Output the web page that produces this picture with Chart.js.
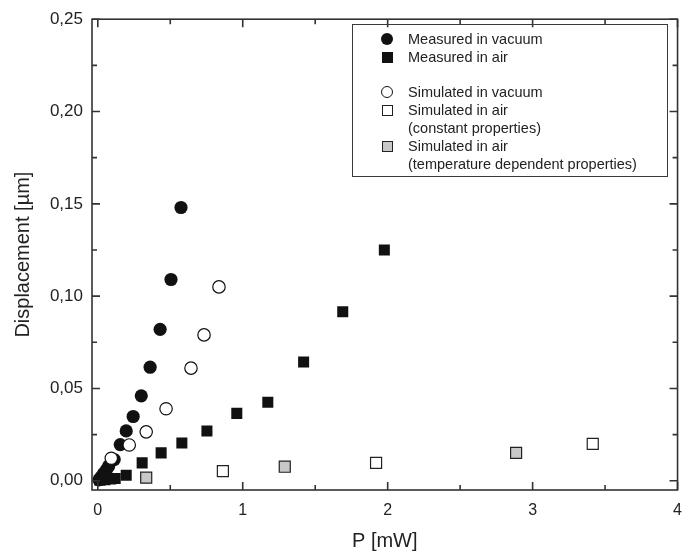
<!DOCTYPE html>
<html>
<head>
<meta charset="utf-8">
<script src="https://cdn.jsdelivr.net/npm/chart.js@4/dist/chart.umd.min.js"></script>
<style>
  html, body { margin: 0; padding: 0; background: #fff; }
  #wrap { position: relative; width: 693px; height: 558px; }
  #legend { position: absolute; left: 352px; top: 24px; width: 316px; height: 153px;
            border: 1.5px solid #3a3a3a; font-family: "Liberation Sans", Arial, sans-serif;
            font-size: 14.5px; color: #222; box-sizing: border-box; }
  .row { position: absolute; left: 0; height: 18px; line-height: 18px; white-space: nowrap; }
  .row .txt { position: absolute; left: 55px; top: 0; }
  .mk { position: absolute; left: 28px; top: 3px; width: 12px; height: 12px; box-sizing: border-box; }
  .fc { background: #111; border-radius: 50%; }
  .fs { background: #111; width: 11px; height: 11px; left: 29px; top: 4px; }
  .oc { border: 1.3px solid #111; border-radius: 50%; background: #fff; }
  .os { border: 1.3px solid #222; background: #fff; width: 11px; height: 11px; left: 29px; top: 4px; }
  .gs { border: 1.3px solid #222; background: #c8c8c8; width: 11px; height: 11px; left: 29px; top: 4px; }
</style>
</head>
<body>
<div id="wrap">
  <canvas id="c" width="693" height="558"></canvas>
  <div id="legend">
    <div class="row" style="top:5px"><span class="mk fc"></span><span class="txt">Measured in vacuum</span></div>
    <div class="row" style="top:23px"><span class="mk fs"></span><span class="txt">Measured in air</span></div>
    <div class="row" style="top:58px"><span class="mk oc"></span><span class="txt">Simulated in vacuum</span></div>
    <div class="row" style="top:76px"><span class="mk os"></span><span class="txt">Simulated in air</span></div>
    <div class="row" style="top:94px"><span class="txt">(constant properties)</span></div>
    <div class="row" style="top:112px"><span class="mk gs"></span><span class="txt">Simulated in air</span></div>
    <div class="row" style="top:130px"><span class="txt">(temperature dependent properties)</span></div>
  </div>
</div>
<script>
// ---- data ----
const measVacX = [0.008, 0.022, 0.04, 0.06, 0.075, 0.113, 0.155, 0.196, 0.244, 0.30, 0.361, 0.43, 0.505, 0.574];
const measVacY = [0.0005, 0.002, 0.004, 0.006, 0.008, 0.0115, 0.0196, 0.027, 0.0348, 0.046, 0.0615, 0.082, 0.109, 0.148];

const measAirX = [0.015, 0.05, 0.09, 0.12, 0.196, 0.306, 0.437, 0.58, 0.753, 0.959, 1.173, 1.42, 1.69, 1.977];
const measAirY = [0.0003, 0.0006, 0.0009, 0.0012, 0.003, 0.0097, 0.0151, 0.0205, 0.027, 0.0365, 0.0425, 0.0643, 0.0915, 0.125];

const simVacX = [0.093, 0.217, 0.334, 0.471, 0.643, 0.733, 0.836];
const simVacY = [0.0122, 0.0194, 0.0265, 0.039, 0.061, 0.079, 0.105];

const simAirConstX = [0.863, 1.92, 3.415];
const simAirConstY = [0.0052, 0.0097, 0.0200];

const simAirTempX = [0.334, 1.29, 2.886];
const simAirTempY = [0.0017, 0.0076, 0.0151];

const xTickValues = [0, 1, 2, 3, 4];
const xTickLabels = ['0', '1', '2', '3', '4'];
const yTickValues = [0, 0.05, 0.10, 0.15, 0.20, 0.25];
const yTickLabels = ['0,00', '0,05', '0,10', '0,15', '0,20', '0,25'];
const xMinorTicks = [0.5, 1.5, 2.5, 3.5];
const yMinorTicks = [0.025, 0.075, 0.125, 0.175, 0.225];

const pts = (xs, ys) => xs.map((x, i) => ({ x, y: ys[i] }));

const frameTicks = {
  id: 'frameTicks',
  afterDatasetsDraw(chart) {
    const { ctx, chartArea: a, scales: { x, y } } = chart;
    ctx.save();
    ctx.strokeStyle = '#333';
    ctx.lineWidth = 1.6;
    ctx.strokeRect(a.left, a.top, a.right - a.left, a.bottom - a.top);
    const maj = 8, min = 5;
    ctx.beginPath();
    const xt = (v, L) => { const p = x.getPixelForValue(v); ctx.moveTo(p, a.bottom); ctx.lineTo(p, a.bottom - L); ctx.moveTo(p, a.top); ctx.lineTo(p, a.top + L); };
    const yt = (v, L) => { const p = y.getPixelForValue(v); ctx.moveTo(a.left, p); ctx.lineTo(a.left + L, p); ctx.moveTo(a.right, p); ctx.lineTo(a.right - L, p); };
    xTickValues.forEach(v => xt(v, maj));
    xMinorTicks.forEach(v => xt(v, min));
    yTickValues.forEach(v => yt(v, maj));
    yMinorTicks.forEach(v => yt(v, min));
    ctx.stroke();
    ctx.restore();
  }
};

const FONT = "'Liberation Sans', Arial, sans-serif";

new Chart(document.getElementById('c'), {
  type: 'scatter',
  data: {
    datasets: [
      { label: 'Simulated in air (constant properties)', data: pts(simAirConstX, simAirConstY),
        pointStyle: 'rect', pointRadius: 7.8, backgroundColor: '#fff', borderColor: '#222', borderWidth: 1.2 },
      { label: 'Simulated in air (temperature dependent properties)', data: pts(simAirTempX, simAirTempY),
        pointStyle: 'rect', pointRadius: 7.8, backgroundColor: '#c8c8c8', borderColor: '#222', borderWidth: 1.2 },
      { label: 'Measured in air', data: pts(measAirX, measAirY),
        pointStyle: 'rect', pointRadius: 7.8, backgroundColor: '#111', borderColor: '#111', borderWidth: 0 },
      { label: 'Simulated in vacuum', data: pts(simVacX, simVacY),
        pointStyle: 'circle', pointRadius: 6.2, backgroundColor: '#fff', borderColor: '#111', borderWidth: 1.2 },
      { label: 'Measured in vacuum', data: pts(measVacX, measVacY),
        pointStyle: 'circle', pointRadius: 6.6, backgroundColor: '#111', borderColor: '#111', borderWidth: 0 }
    ]
  },
  options: {
    responsive: false,
    animation: false,
    layout: { padding: { top: 17, right: 14, left: 0, bottom: 0 } },
    plugins: { legend: { display: false }, tooltip: { enabled: false } },
    elements: { point: { hoverRadius: 6 } },
    scales: {
      x: {
        type: 'linear', min: -0.04, max: 4,
        grid: { display: false, drawTicks: false },
        border: { display: false },
        afterBuildTicks: s => { s.ticks = xTickValues.map(v => ({ value: v })); },
        afterFit: s => { s.height = 68; },
        ticks: { padding: 11, color: '#222', font: { family: FONT, size: 16 },
                 callback: (v) => xTickLabels[xTickValues.indexOf(v)] },
        title: { display: true, text: 'P [mW]', color: '#222', font: { family: FONT, size: 20 },
                 padding: { top: 0, bottom: 5 } }
      },
      y: {
        type: 'linear', min: -0.005, max: 0.25,
        grid: { display: false, drawTicks: false },
        border: { display: false },
        afterBuildTicks: s => { s.ticks = yTickValues.map(v => ({ value: v })); },
        afterFit: s => { s.width = 92; },
        ticks: { padding: 9, color: '#222', font: { family: FONT, size: 17 },
                 callback: (v) => { const i = yTickValues.findIndex(t => Math.abs(t - v) < 1e-9); return yTickLabels[i]; } },
        title: { display: true, text: 'Displacement [µm]', color: '#222', font: { family: FONT, size: 20 },
                 padding: { top: 11, bottom: 0 } }
      }
    }
  },
  plugins: [frameTicks]
});
</script>
</body>
</html>
